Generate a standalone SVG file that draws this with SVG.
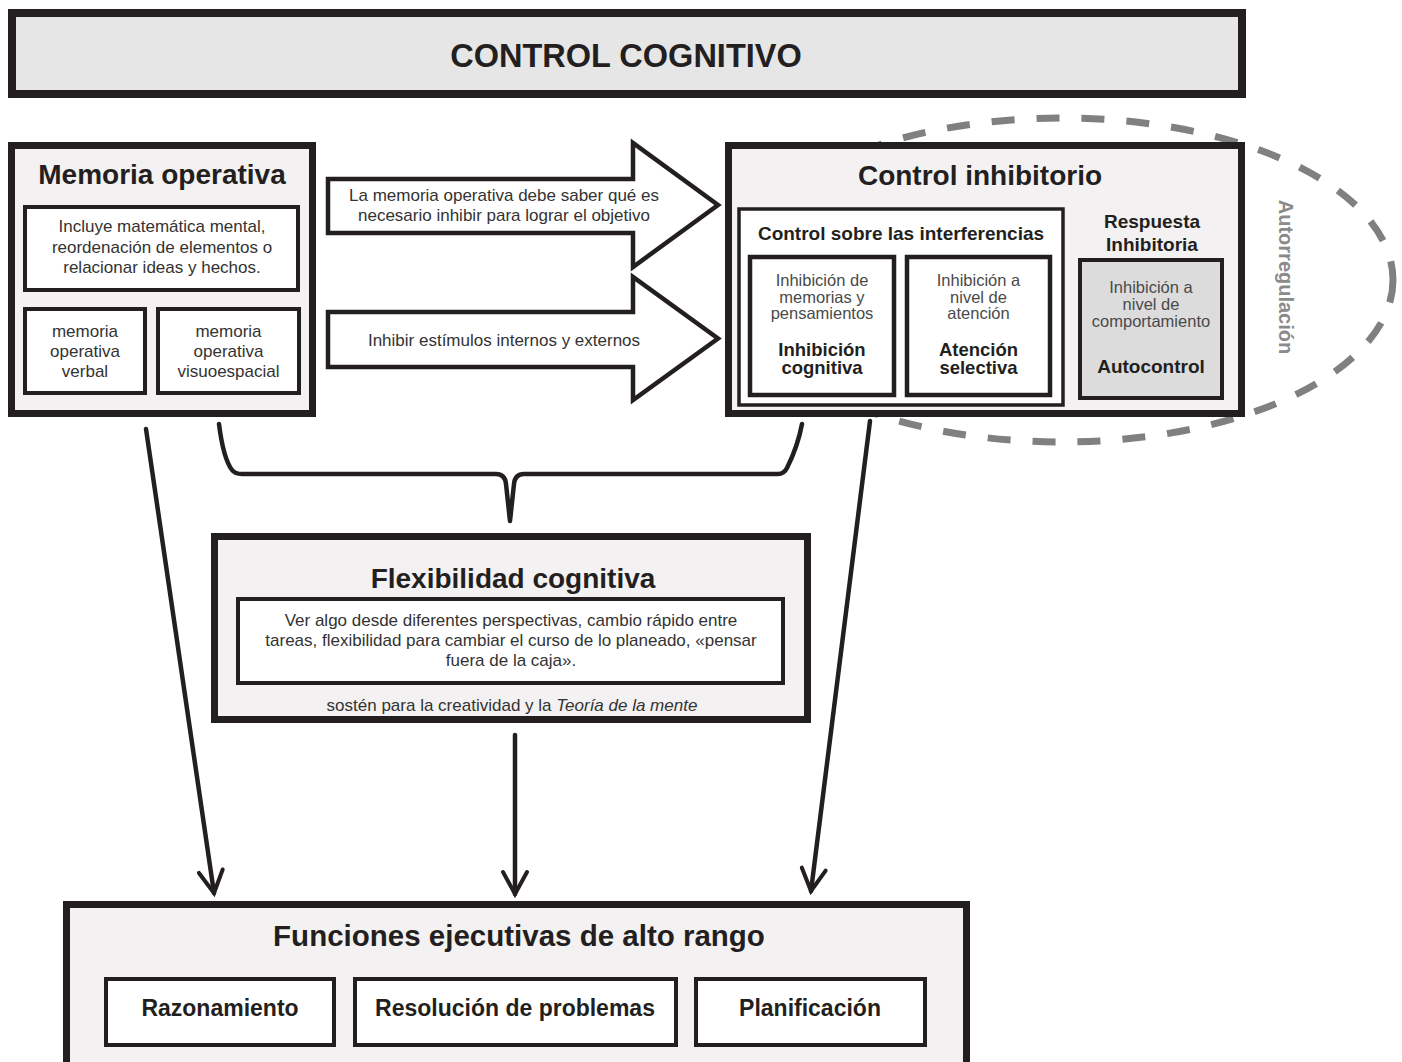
<svg xmlns="http://www.w3.org/2000/svg" width="1402" height="1062" viewBox="0 0 1402 1062">
  <style>
    text { font-family: "Liberation Sans", Arial, Helvetica, sans-serif; fill: #231f20; text-anchor: middle; }
    .box { fill: #f3f1f2; stroke: #231f20; stroke-width: 7; }
    .inner { fill: #ffffff; stroke: #231f20; stroke-width: 4; }
    .title { font-size: 28px; font-weight: bold; }
    .sub { font-size: 19px; font-weight: bold; }
    .task { font-size: 23px; font-weight: bold; }
    .body { font-size: 17px; fill: #333333; }
    .small { font-size: 16.5px; fill: #4a4a4a; }
    .conn { fill: none; stroke: #231f20; stroke-width: 4.5; stroke-linecap: round; stroke-linejoin: round; }
    .block { fill: #ffffff; stroke: #231f20; stroke-width: 4.5; stroke-linejoin: miter; }
  </style>
  <defs>
    <marker id="vhead" viewBox="-28 -16 32 32" refX="0" refY="0" markerWidth="32" markerHeight="32"
            markerUnits="userSpaceOnUse" orient="auto" overflow="visible">
      <path d="M-22,-12 L0,0 L-22,12" fill="none" stroke="#231f20" stroke-width="4" stroke-linecap="round" stroke-linejoin="miter"/>
    </marker>
  </defs>

  <rect width="1402" height="1062" fill="#ffffff"/>

  <!-- header banner -->
  <g id="control-cognitivo">
    <rect x="12" y="13" width="1230" height="81" fill="#e6e6e6" stroke="#231f20" stroke-width="8"/>
    <text x="626" y="67" style="font-size:32.5px;font-weight:bold">CONTROL COGNITIVO</text>
  </g>

  <!-- self-regulation halo, drawn behind the inhibitory box -->
  <g id="autorregulacion">
    <ellipse cx="1062" cy="280" rx="331" ry="162" fill="none" stroke="#808080" stroke-width="7" stroke-dasharray="23 22"/>
    <text x="0" y="0" transform="translate(1286 277) rotate(90)" style="font-size:20px;font-weight:bold;fill:#8a8a8a" dominant-baseline="central">Autorregulación</text>
  </g>

  <!-- working memory -->
  <g id="memoria-operativa">
    <rect class="box" x="11.5" y="145.5" width="301" height="268"/>
    <text class="title" x="162" y="184">Memoria operativa</text>
    <rect class="inner" x="25" y="207" width="273" height="83"/>
    <text class="body" x="162" y="232">Incluye matemática mental,</text>
    <text class="body" x="162" y="252.5">reordenación de elementos o</text>
    <text class="body" x="162" y="273">relacionar ideas y hechos.</text>
    <rect class="inner" x="25" y="309" width="120" height="84"/>
    <text class="body" x="85" y="337">memoria</text>
    <text class="body" x="85" y="357">operativa</text>
    <text class="body" x="85" y="377">verbal</text>
    <rect class="inner" x="158" y="309" width="141" height="84"/>
    <text class="body" x="228.5" y="337">memoria</text>
    <text class="body" x="228.5" y="357">operativa</text>
    <text class="body" x="228.5" y="377">visuoespacial</text>
  </g>

  <!-- inhibitory control -->
  <g id="control-inhibitorio">
    <rect class="box" x="728.5" y="145.5" width="513" height="268"/>
    <text class="title" x="980" y="185">Control inhibitorio</text>
    <rect x="739" y="209" width="324" height="196" fill="#ffffff" stroke="#231f20" stroke-width="3.5"/>
    <text class="sub" x="901" y="240">Control sobre las interferencias</text>
    <rect class="inner" x="750" y="257" width="144" height="138" style="stroke-width:4.5"/>
    <text class="small" x="822" y="286">Inhibición de</text>
    <text class="small" x="822" y="302.5">memorias y</text>
    <text class="small" x="822" y="319">pensamientos</text>
    <text class="sub" x="822" y="356" style="font-size:18.5px">Inhibición</text>
    <text class="sub" x="822" y="374" style="font-size:18.5px">cognitiva</text>
    <rect class="inner" x="907" y="257" width="143" height="138" style="stroke-width:4.5"/>
    <text class="small" x="978.5" y="286">Inhibición a</text>
    <text class="small" x="978.5" y="302.5">nivel de</text>
    <text class="small" x="978.5" y="319">atención</text>
    <text class="sub" x="978.5" y="356" style="font-size:18.5px">Atención</text>
    <text class="sub" x="978.5" y="374" style="font-size:18.5px">selectiva</text>
    <text class="sub" x="1152" y="228">Respuesta</text>
    <text class="sub" x="1152" y="251">Inhibitoria</text>
    <rect x="1080" y="260" width="142" height="138" fill="#dcdcdc" stroke="#231f20" stroke-width="4"/>
    <text class="small" x="1151" y="293">Inhibición a</text>
    <text class="small" x="1151" y="310">nivel de</text>
    <text class="small" x="1151" y="327">comportamiento</text>
    <text class="sub" x="1151" y="373">Autocontrol</text>
  </g>

  <!-- cognitive flexibility -->
  <g id="flexibilidad-cognitiva">
    <rect class="box" x="214.5" y="536.5" width="593" height="183"/>
    <text class="title" x="513" y="588">Flexibilidad cognitiva</text>
    <rect class="inner" x="238" y="599" width="545" height="84"/>
    <text class="body" x="511" y="626">Ver algo desde diferentes perspectivas, cambio rápido entre</text>
    <text class="body" x="511" y="646">tareas, flexibilidad para cambiar el curso de lo planeado, «pensar</text>
    <text class="body" x="511" y="666">fuera de la caja».</text>
    <text class="body" x="512" y="711">sostén para la creatividad y la <tspan font-style="italic">Teoría de la mente</tspan></text>
  </g>

  <!-- higher executive functions -->
  <g id="funciones-ejecutivas">
    <rect class="box" x="66.5" y="904.5" width="900" height="200"/>
    <text class="title" x="519" y="946" style="font-size:29.5px">Funciones ejecutivas de alto rango</text>
    <rect class="inner" x="106" y="979" width="228" height="66"/>
    <text class="task" x="220" y="1016">Razonamiento</text>
    <rect class="inner" x="355" y="979" width="321" height="66"/>
    <text class="task" x="515" y="1016">Resolución de problemas</text>
    <rect class="inner" x="696" y="979" width="229" height="66"/>
    <text class="task" x="810" y="1016">Planificación</text>
  </g>

  <!-- connectors -->
  <g id="connectors">
    <!-- block arrows from working memory to inhibitory control -->
    <g id="arrow-objetivo">
      <path class="block" d="M328,179 L633,179 L633,143 L718,205 L633,267 L633,233 L328,233 Z"/>
      <text class="body" x="504" y="201">La memoria operativa debe saber qué es</text>
      <text class="body" x="504" y="221">necesario inhibir para lograr el objetivo</text>
    </g>
    <g id="arrow-estimulos">
      <path class="block" d="M328,312 L633,312 L633,277 L718,338.5 L633,400 L633,367 L328,367 Z"/>
      <text class="body" x="504" y="346">Inhibir estímulos internos y externos</text>
    </g>
    <!-- brace joining both into flexibility -->
    <path class="conn" d="M219,424 C222,448 226,462 232,470 Q235,474 242,474 L496,474 Q505,474 506,484 L510,521 L514,484 Q515,474 524,474 L778,474 Q784,474 787,468 C795,452 799,440 802,424"/>
    <!-- arrows into higher executive functions -->
    <line class="conn" x1="146" y1="429" x2="214" y2="893" marker-end="url(#vhead)"/>
    <line class="conn" x1="515" y1="735" x2="515" y2="894" marker-end="url(#vhead)"/>
    <line class="conn" x1="870" y1="421" x2="811" y2="891" marker-end="url(#vhead)"/>
  </g>
</svg>
